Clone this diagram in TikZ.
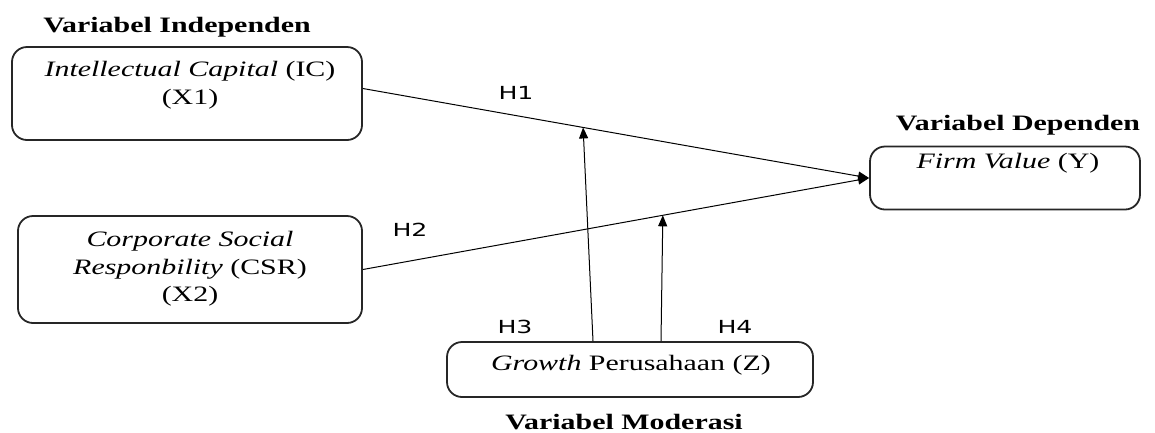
\documentclass[tikz,border=0pt]{standalone}
\usepackage{fontspec}
\setmainfont{Liberation Serif}[FakeStretch=1.36]
\newfontfamily\hfont{DejaVu Sans}[FakeStretch=1.4]
\usetikzlibrary{arrows.meta,calc}
\begin{document}
\begin{tikzpicture}[x=1pt,y=-1pt,
  box/.style={draw=black!85,line width=1.8pt,rounded corners=15pt,inner sep=0pt},
  txt/.style={font=\fontsize{22}{27.5}\selectfont,align=center,inner sep=0pt},
  head/.style={font=\fontsize{22}{25}\selectfont\bfseries,inner sep=0pt},
  hyp/.style={font=\fontsize{18}{22}\selectfont\hfont,inner sep=0pt},
  conn/.style={line width=1pt,-{Triangle[length=11pt,width=9pt]}}]
\useasboundingbox (0,0) rectangle (1155,432);
% boxes
\node[box,minimum width=350pt,minimum height=93pt] (ic) at (187,93.5) {};
\node[box,minimum width=344pt,minimum height=107pt] (csr) at (190,269.5) {};
\node[box,minimum width=270pt,minimum height=63pt] (y) at (1005,178) {};
\node[box,minimum width=366pt,minimum height=55pt] (z) at (630,369.5) {};
% texts
\node[txt] (ictxt) at (190,85) {\textit{Intellectual Capital} (IC)\\(X1)};
\node[txt] (csrtxt) at (190,269) {\textit{Corporate Social}\\\textit{Responbility} (CSR)\\(X2)};
\node[txt] (ytxt) at (1008,163) {\textit{Firm Value} (Y)};
\node[txt] (ztxt) at (631,365) {\textit{Growth} Perusahaan (Z)};
\node[head] (hind) at (177,27) {Variabel Independen};
\node[head] (hdep) at (1018,125) {Variabel Dependen};
\node[head] (hmod) at (624,422) {Variabel Moderasi};
% hypothesis labels
\node[hyp] (h1) at (516,93) {H1};
\node[hyp] (h2) at (410,230) {H2};
\node[hyp] (h3) at (515,327) {H3};
\node[hyp] (h4) at (735,327) {H4};
% connectors
\coordinate (icout) at ($(ic.east)+(0,-5)$);
\draw[conn] (icout) -- (y.west) coordinate[pos=0.435] (m1);
\draw[conn] (csr.east) -- (y.west) coordinate[pos=0.5925] (m2);
\draw[conn] ([xshift=-37pt]z.north) -- (m1);
\draw[conn] ([xshift=31pt]z.north) -- (m2);
\end{tikzpicture}
\end{document}
